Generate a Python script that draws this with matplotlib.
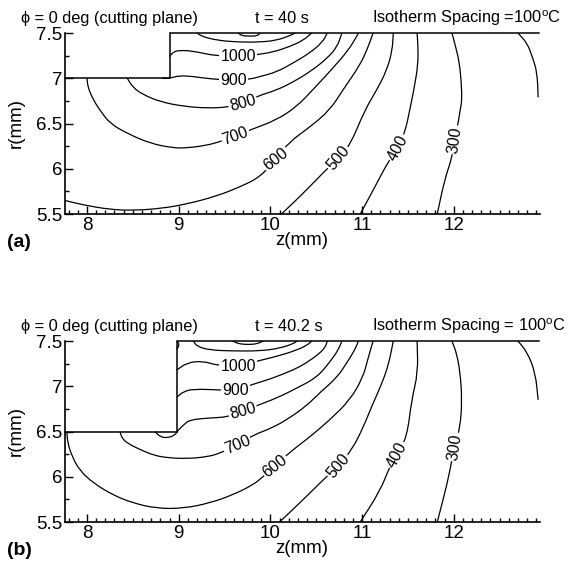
import numpy as np
import matplotlib
matplotlib.use("Agg")
import matplotlib.pyplot as plt
from matplotlib.path import Path
from matplotlib.patches import PathPatch

plt.rcParams['font.family'] = ['Liberation Sans', 'DejaVu Sans']
plt.rcParams['mathtext.fontset'] = 'custom'
plt.rcParams['mathtext.rm'] = 'Liberation Sans'

# ---------------- axes / ticks ----------------
z_lim = (7.76, 12.94)
r_lim = (5.5, 7.5)
z_ticks = [8, 9, 10, 11, 12]
z_tick_labels = ["8", "9", "10", "11", "12"]
r_ticks = [5.5, 6.0, 6.5, 7.0, 7.5]
r_tick_labels = ["5.5", "6", "6.5", "7", "7.5"]

# ---------------- panel (a) : t = 40 s ----------------
a_bound_z = [7.76, 8.90, 8.90, 12.93]
a_bound_r = [7.0, 7.0, 7.5, 7.5]

a1200_z = [9.65, 9.69, 9.78, 9.86, 9.89]
a1200_r = [7.50, 7.47, 7.465, 7.47, 7.50]
a1100_z = [9.20, 9.26, 9.42, 9.64, 9.89, 10.07, 10.21, 10.27]
a1100_r = [7.50, 7.46, 7.42, 7.40, 7.40, 7.42, 7.47, 7.50]
a1000_z = [8.90, 8.94, 9.01, 9.16, 9.34, 9.45, 9.65, 9.85, 10.03, 10.21, 10.36, 10.45]
a1000_r = [7.24, 7.29, 7.31, 7.30, 7.26, 7.25, 7.24, 7.26, 7.29, 7.35, 7.42, 7.50]
a900_z = [8.82, 8.90, 9.01, 9.16, 9.37, 9.60, 9.78, 9.89, 10.07, 10.25, 10.43, 10.57, 10.62]
a900_r = [7.00, 7.00, 7.03, 7.02, 6.99, 6.98, 6.99, 7.02, 7.07, 7.17, 7.28, 7.40, 7.50]
a800_z = [8.44, 8.50, 8.61, 8.80, 9.05, 9.31, 9.53, 9.70, 9.85, 10.07, 10.25, 10.43, 10.62, 10.73, 10.78]
a800_r = [7.00, 6.90, 6.82, 6.74, 6.69, 6.67, 6.68, 6.72, 6.80, 6.87, 6.96, 7.07, 7.22, 7.35, 7.50]
a700_z = [8.00, 8.01, 8.07, 8.14, 8.25, 8.44, 8.69, 8.94, 9.09, 9.31, 9.45, 9.62, 9.78, 10.07,
          10.29, 10.46, 10.68, 10.85, 10.94, 10.96]
a700_r = [7.00, 6.90, 6.76, 6.65, 6.50, 6.39, 6.28, 6.23, 6.23, 6.26, 6.30, 6.36, 6.43, 6.54,
          6.69, 6.87, 7.11, 7.31, 7.46, 7.50]
a600_z = [7.76, 7.96, 8.25, 8.50, 8.80, 9.09, 9.42, 9.67, 9.89, 10.06, 10.21, 10.43, 10.65,
          10.79, 10.98, 11.06, 11.12]
a600_r = [5.65, 5.60, 5.55, 5.54, 5.56, 5.61, 5.70, 5.80, 5.91, 6.11, 6.30, 6.46, 6.65,
          6.87, 7.15, 7.33, 7.50]
a500_z = [10.12, 10.32, 10.57, 10.74, 10.87, 11.03, 11.16, 11.27, 11.33, 11.34]
a500_r = [5.50, 5.69, 5.95, 6.12, 6.26, 6.65, 6.87, 7.09, 7.31, 7.50]
a400_z = [10.98, 11.14, 11.28, 11.39, 11.47, 11.52, 11.57, 11.61, 11.61, 11.60]
a400_r = [5.50, 5.80, 6.07, 6.23, 6.41, 6.65, 6.90, 7.15, 7.35, 7.50]
a300_z = [11.82, 11.90, 11.98, 12.01, 12.05, 12.07, 12.09, 12.08, 12.06, 12.02, 11.98]
a300_r = [5.50, 5.88, 6.12, 6.32, 6.52, 6.65, 6.76, 6.98, 7.18, 7.35, 7.50]
a200_z = [12.70, 12.80, 12.86, 12.91, 12.92]
a200_r = [7.50, 7.39, 7.23, 7.06, 6.79]

a_label_levels = [1000, 900, 800, 700, 600, 500, 400, 300]
a_label_z = [9.65, 9.60, 9.70, 9.62, 10.06, 10.74, 11.39, 12.01]
a_label_r = [7.24, 6.98, 6.72, 6.36, 6.11, 6.12, 6.23, 6.32]
a_label_rot = [0, 0, 15, 20, 38, 50, 62, 82]

# ---------------- panel (b) : t = 40.2 s ----------------
b_bound_z = [7.76, 8.98, 8.98, 12.93]
b_bound_r = [6.5, 6.5, 7.5, 7.5]

b1200_z = [9.59, 9.65, 9.76, 9.86, 9.92]
b1200_r = [7.50, 7.47, 7.46, 7.47, 7.50]
b1100_z = [9.16, 9.20, 9.34, 9.59, 9.89, 10.10, 10.25, 10.29]
b1100_r = [7.50, 7.44, 7.40, 7.39, 7.39, 7.42, 7.47, 7.50]
b1100c_z = [8.98, 9.01, 8.98]
b1100c_r = [7.50, 7.46, 7.41]
b1000_z = [8.98, 9.09, 9.26, 9.42, 9.65, 9.86, 10.07, 10.29, 10.41, 10.45]
b1000_r = [7.18, 7.26, 7.28, 7.23, 7.22, 7.28, 7.33, 7.40, 7.46, 7.50]
b900_z = [8.98, 9.05, 9.16, 9.45, 9.62, 9.80, 10.00, 10.25, 10.38, 10.52, 10.60, 10.62]
b900_r = [6.88, 6.94, 6.97, 6.96, 6.95, 7.02, 7.08, 7.18, 7.25, 7.35, 7.43, 7.50]
b800_z = [8.74, 8.80, 8.88, 8.96, 8.99, 9.05, 9.12, 9.34, 9.53, 9.70, 9.86, 10.07, 10.29,
          10.51, 10.65, 10.74, 10.78]
b800_r = [6.50, 6.44, 6.43, 6.46, 6.51, 6.57, 6.63, 6.65, 6.66, 6.72, 6.79, 6.87, 6.98,
          7.10, 7.27, 7.40, 7.50]
b700_z = [8.36, 8.38, 8.44, 8.58, 8.72, 8.87, 9.09, 9.31, 9.45, 9.64, 9.81, 10.02, 10.21,
          10.40, 10.54, 10.73, 10.84, 10.92, 10.96]
b700_r = [6.50, 6.43, 6.37, 6.30, 6.24, 6.21, 6.20, 6.22, 6.26, 6.35, 6.46, 6.54, 6.65,
          6.79, 6.93, 7.10, 7.27, 7.40, 7.50]
b600_z = [7.78, 7.79, 7.84, 7.92, 8.07, 8.28, 8.50, 8.76, 9.05, 9.34, 9.59, 9.81, 9.92,
          10.05, 10.21, 10.43, 10.65, 10.87, 11.01, 11.06, 11.12]
b600_r = [6.50, 6.37, 6.22, 6.07, 5.93, 5.80, 5.71, 5.65, 5.65, 5.71, 5.80, 5.91, 6.00,
          6.12, 6.27, 6.44, 6.63, 6.85, 7.10, 7.29, 7.50]
b500_z = [10.10, 10.32, 10.60, 10.74, 10.89, 11.01, 11.11, 11.16, 11.25, 11.30, 11.34]
b500_r = [5.50, 5.71, 5.99, 6.12, 6.30, 6.54, 6.79, 6.90, 7.12, 7.29, 7.50]
b400_z = [10.98, 11.20, 11.30, 11.38, 11.49, 11.54, 11.61, 11.60]
b400_r = [5.50, 5.85, 6.11, 6.24, 6.44, 6.85, 7.15, 7.50]
b300_z = [11.82, 11.93, 11.98, 12.01, 12.07, 12.09, 12.07, 12.03, 11.98]
b300_r = [5.50, 5.93, 6.19, 6.33, 6.55, 6.85, 7.15, 7.37, 7.50]
b200_z = [12.70, 12.80, 12.89, 12.92]
b200_r = [7.50, 7.38, 7.15, 6.85]

b_label_levels = [1000, 900, 800, 700, 600, 500, 400, 300]
b_label_z = [9.65, 9.62, 9.70, 9.64, 10.05, 10.74, 11.38, 12.01]
b_label_r = [7.22, 6.95, 6.72, 6.35, 6.12, 6.12, 6.24, 6.33]
b_label_rot = [0, 0, 15, 22, 38, 50, 62, 82]

panels = [
    dict(bound=(a_bound_z, a_bound_r),
         lines=[(a1200_z, a1200_r), (a1100_z, a1100_r), (a1000_z, a1000_r), (a900_z, a900_r),
                (a800_z, a800_r), (a700_z, a700_r), (a600_z, a600_r), (a500_z, a500_r),
                (a400_z, a400_r), (a300_z, a300_r), (a200_z, a200_r)],
         labels=(a_label_levels, a_label_z, a_label_r, a_label_rot),
         time="t = 40 s", spacing="Isotherm Spacing =100$^{\\rm o}$C", tag="(a)",
         rect=[0.1132, 0.6185, 0.8275, 0.3226]),
    dict(bound=(b_bound_z, b_bound_r),
         lines=[(b1200_z, b1200_r), (b1100_z, b1100_r), (b1100c_z, b1100c_r), (b1000_z, b1000_r),
                (b900_z, b900_r), (b800_z, b800_r), (b700_z, b700_r), (b600_z, b600_r),
                (b500_z, b500_r), (b400_z, b400_r), (b300_z, b300_r), (b200_z, b200_r)],
         labels=(b_label_levels, b_label_z, b_label_r, b_label_rot),
         time="t = 40.2 s", spacing="Isotherm Spacing = 100$^{\\rm o}$C", tag="(b)",
         rect=[0.1132, 0.0695, 0.8275, 0.3226]),
]


def smooth_path(z, r):
    """Quadratic B-spline style path using the read points as control points."""
    pts = np.column_stack([z, r]).astype(float)
    n = len(pts)
    if n < 3:
        return Path(pts)
    verts = [pts[0], (pts[0] + pts[1]) / 2]
    codes = [Path.MOVETO, Path.LINETO]
    for i in range(1, n - 1):
        verts += [pts[i], (pts[i] + pts[i + 1]) / 2]
        codes += [Path.CURVE3, Path.CURVE3]
    verts.append(pts[-1])
    codes.append(Path.LINETO)
    return Path(verts, codes)


fig = plt.figure(figsize=(5.74, 5.61), dpi=100)
fig.patch.set_facecolor("white")

for p in panels:
    ax = fig.add_axes(p["rect"])
    ax.set_xlim(*z_lim)
    ax.set_ylim(*r_lim)
    for s in ("top", "right"):
        ax.spines[s].set_visible(False)
    for s in ("left", "bottom"):
        ax.spines[s].set_linewidth(1.2)
    ax.set_xticks(z_ticks, labels=z_tick_labels)
    ax.set_yticks(r_ticks, labels=r_tick_labels)
    ax.set_xticks(np.arange(7.8, 12.95, 0.1), minor=True)
    ax.set_yticks(np.arange(5.5, 7.51, 0.25), minor=True)
    ax.tick_params(which="both", direction="in", labelsize=13.5, width=1.0)
    ax.tick_params(which="major", length=6, pad=2)
    ax.tick_params(which="minor", length=3)
    ax.set_xlabel("z(mm)", fontsize=13.5, va="top")
    ax.set_ylabel("r(mm)", fontsize=13.5)
    ax.xaxis.set_label_coords(0.499, -0.10)
    ax.yaxis.set_label_coords(-0.085, 0.505)

    bz, br = p["bound"]
    ax.plot(bz, br, color="black", lw=1.1, solid_joinstyle="miter", clip_on=False)
    for zz, rr in p["lines"]:
        ax.add_patch(PathPatch(smooth_path(zz, rr), fill=False, ec="black", lw=0.9,
                               clip_on=False))
    lev, lz, lr, lrot = p["labels"]
    for L, x, y, a in zip(lev, lz, lr, lrot):
        ax.text(x, y, str(L), fontsize=11.5, rotation=a, rotation_mode="anchor",
                ha="center", va="center",
                bbox=dict(boxstyle="square,pad=0.08", fc="white", ec="none"))

    ax.text(-0.093, 1.058, "\u03d5 = 0 deg (cutting plane)", transform=ax.transAxes,
            fontsize=11.8, ha="left", va="baseline")
    ax.text(0.40, 1.058, p["time"], transform=ax.transAxes, fontsize=11.8,
            ha="left", va="baseline")
    ax.text(0.646, 1.058, p["spacing"], transform=ax.transAxes, fontsize=11.8,
            ha="left", va="baseline")
    ax.text(-0.122, -0.16, p["tag"], transform=ax.transAxes, fontsize=14,
            fontweight="bold", ha="left", va="center")

fig.savefig("out.png", dpi=100, facecolor="white")
